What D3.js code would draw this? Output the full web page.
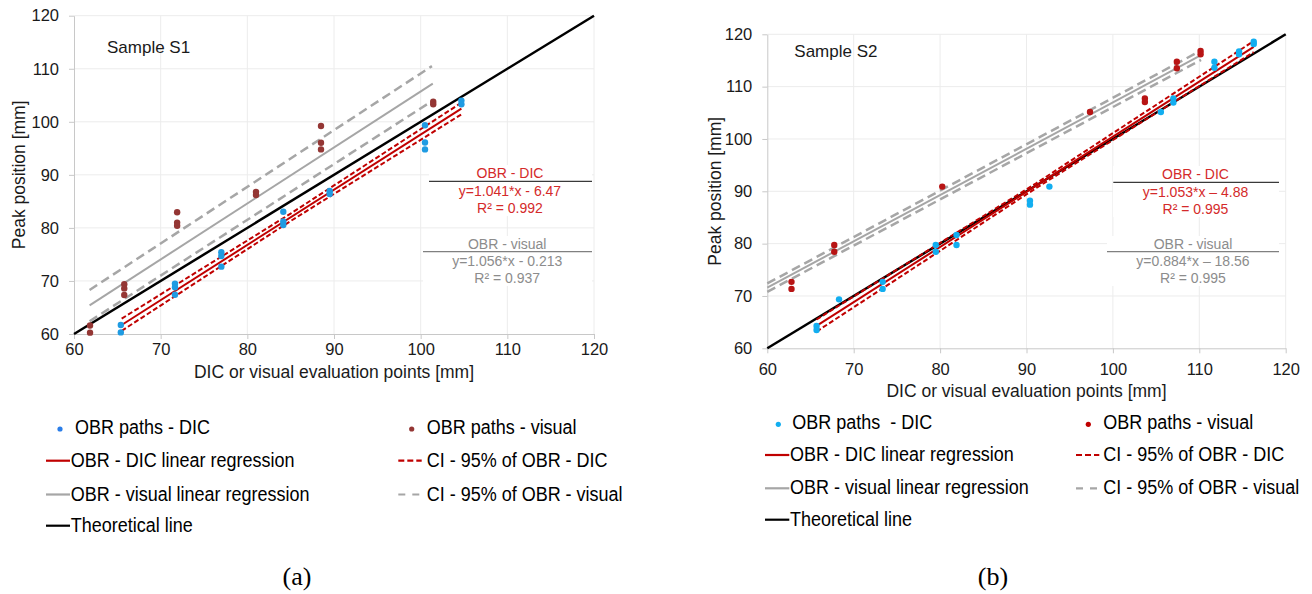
<!DOCTYPE html>
<html><head><meta charset="utf-8">
<script src="https://cdn.jsdelivr.net/npm/d3@7"></script>
<style>
html,body{margin:0;padding:0;background:#fff;}
svg{display:block;font-family:"Liberation Sans",Arial,sans-serif;}
text{white-space:pre;}
</style></head>
<body><svg id="chart" width="1312" height="594"></svg>
<script>
// ---------- data ----------
const axisTicks = [60, 70, 80, 90, 100, 110, 120];
const theoryX = [60, 120];
const theoryY = [60, 120];

// Sample S1
const s1DicX = [65.4, 65.4, 71.65, 71.65, 71.65, 77.0, 77.0, 77.0, 84.15, 84.15, 84.15, 89.5, 89.5, 100.5, 100.5, 100.5, 104.7, 104.7];
const s1DicY = [61.7, 60.3, 69.5, 68.8, 67.4, 75.4, 74.7, 72.7, 83.05, 81.2, 80.55, 86.95, 86.4, 99.35, 96.1, 94.8, 104.0, 103.3];
const s1VisX = [61.85, 61.85, 65.8, 65.8, 65.8, 71.9, 71.9, 71.9, 81.0, 81.0, 88.5, 88.5, 88.5, 101.45, 101.45];
const s1VisY = [61.6, 60.25, 69.4, 68.6, 67.35, 82.95, 81.0, 80.4, 86.8, 86.2, 99.2, 96.05, 94.8, 103.8, 103.3];
const s1DicRegX = [65.5, 104.7];
const s1DicRegY = [61.7, 102.5];
const s1DicCiX = [65.5, 85, 104.7];
const s1DicCiUp = [62.9, 82.7, 103.6];
const s1DicCiLo = [60.6, 81.3, 101.4];
const s1VisRegX = [61.8, 101.4];
const s1VisRegY = [65.4, 107.2];
const s1VisCiX = [61.8, 101.3];
const s1VisCiUp = [68.3, 110.5];
const s1VisCiLo = [62.4, 103.9];
const s1Labels = ["OBR - DIC", "y=1.041*x - 6.47", "R² = 0.992", "OBR - visual", "y=1.056*x - 0.213", "R² = 0.937"];

// Sample S2
const s2DicX = [65.7, 65.7, 68.3, 73.35, 73.35, 79.5, 79.5, 81.9, 81.9, 90.4, 90.4, 92.65, 105.55, 107.0, 107.0, 111.75, 111.75, 114.6, 114.6, 116.3, 116.3];
const s2DicY = [64.25, 63.5, 69.35, 72.7, 71.35, 79.75, 78.45, 81.65, 79.75, 88.2, 87.45, 90.9, 105.15, 107.75, 106.95, 114.75, 113.6, 116.7, 116.2, 118.6, 118.15];
const s2VisX = [62.8, 62.8, 67.75, 67.75, 80.25, 97.35, 103.7, 103.7, 107.4, 107.4, 110.15, 110.15];
const s2VisY = [72.7, 71.35, 79.75, 78.45, 90.9, 105.15, 107.75, 107.05, 114.75, 113.5, 116.8, 116.2];
const s2DicRegX = [65.7, 116.3];
const s2DicRegY = [64.3, 117.6];
const s2DicCiX = [65.7, 91, 116.3];
const s2DicCiUp = [65.5, 91.4, 118.7];
const s2DicCiLo = [63.2, 90.5, 116.6];
const s2VisRegX = [60, 110.2];
const s2VisRegY = [71.6, 116.0];
const s2VisCiX = [60, 110.2];
const s2VisCiUp = [72.4, 116.9];
const s2VisCiLo = [70.8, 115.1];
const s2Labels = ["OBR - DIC", "y=1.053*x \u2013 4.88", "R² = 0.995", "OBR - visual", "y=0.884*x \u2013 18.56", "R² = 0.995"];

const legendS1 = ["OBR paths - DIC", "OBR paths - visual", "OBR - DIC linear regression", "CI - 95% of OBR - DIC", "OBR - visual linear regression", "CI - 95% of OBR - visual", "Theoretical line"];
const legendS2 = ["OBR paths  - DIC", "OBR paths - visual", "OBR - DIC linear regression", "CI - 95% of OBR - DIC", "OBR - visual linear regression", "CI - 95% of OBR - visual", "Theoretical line"];

// ---------- drawing ----------
const svg = d3.select("#chart");
svg.append("rect").attr("width", 1312).attr("height", 594).attr("fill", "#fff");

const zip = (xs, ys) => xs.map((v, i) => [v, ys[i]]);

function panel(c) {
  const x = d3.scaleLinear().domain([60, 120]).range([c.x0, c.x1]);
  const y = d3.scaleLinear().domain([60, 120]).range([c.y0, c.y1]);
  const g = svg.append("g");
  // grid
  g.selectAll(".gx").data(axisTicks.slice(1)).join("line")
    .attr("x1", d => x(d)).attr("x2", d => x(d)).attr("y1", c.y0).attr("y2", c.y1)
    .attr("stroke", "#ececec").attr("stroke-width", 1);
  g.selectAll(".gy").data(axisTicks.slice(1)).join("line")
    .attr("x1", c.x0).attr("x2", c.x1).attr("y1", d => y(d)).attr("y2", d => y(d))
    .attr("stroke", "#ececec").attr("stroke-width", 1);
  // annotation boxes
  c.boxes.forEach(b => g.append("rect").attr("x", b[0]).attr("y", b[1]).attr("width", b[2]).attr("height", b[3]).attr("fill", "#fff"));
  // axes
  const ax = g.append("g").attr("transform", `translate(0,${c.y0})`)
    .call(d3.axisBottom(x).tickValues(axisTicks).tickSize(5).tickPadding(c.xPad).tickSizeOuter(0));
  const ay = g.append("g").attr("transform", `translate(${c.x0},0)`)
    .call(d3.axisLeft(y).tickValues(axisTicks).tickSize(5).tickPadding(10).tickSizeOuter(0));
  [ax, ay].forEach(a => {
    a.select(".domain").attr("stroke", "#c8c8c8");
    a.selectAll(".tick line").attr("stroke", "#c8c8c8");
    a.selectAll(".tick text").attr("font-size", 16.5).attr("fill", "#1a1a1a").attr("font-family", "Liberation Sans, Arial, sans-serif");
  });
  const line = d3.line().x(d => x(d[0])).y(d => y(d[1]));
  const path = (pts, col, w, dash) => g.append("path").attr("d", line(pts)).attr("fill", "none")
    .attr("stroke", col).attr("stroke-width", w).attr("stroke-dasharray", dash || null);
  // regression lines
  path(zip(c.visCiX, c.visCiUp), "#a6a6a6", 2.5, "9,5");
  path(zip(c.visCiX, c.visCiLo), "#a6a6a6", 2.5, "9,5");
  path(zip(c.visRegX, c.visRegY), "#a6a6a6", 2);
  path(zip(theoryX, theoryY), "#000", 2.5);
  path(zip(c.dicCiX, c.dicCiUp), "#c00000", 2, "5,2.5");
  path(zip(c.dicCiX, c.dicCiLo), "#c00000", 2, "5,2.5");
  path(zip(c.dicRegX, c.dicRegY), "#c00000", 2);
  // points
  g.selectAll(".pv").data(zip(c.visX, c.visY)).join("circle")
    .attr("cx", d => x(d[0])).attr("cy", d => y(d[1])).attr("r", 3.2).attr("fill", c.visCol);
  g.selectAll(".pd").data(zip(c.dicX, c.dicY)).join("circle")
    .attr("cx", d => x(d[0])).attr("cy", d => y(d[1])).attr("r", 3.2).attr("fill", c.dicCol);
  // titles
  g.append("text").attr("x", (c.x0 + c.x1) / 2).attr("y", c.xTitleY).attr("text-anchor", "middle")
    .attr("font-size", 17.5).attr("fill", "#1a1a1a").text("DIC or visual evaluation points [mm]");
  g.append("text").attr("transform", `translate(${c.yTitleX},${(c.y0 + c.y1) / 2}) rotate(-90)`).attr("text-anchor", "middle")
    .attr("font-size", 17.5).attr("fill", "#1a1a1a").text("Peak position [mm]");
  g.append("text").attr("x", c.sampleX).attr("y", c.sampleY).attr("font-size", 17).attr("fill", "#1a1a1a").text(c.sample);
  // annotations
  const L = c.labels, A = c.ann;
  const t = (s, xx, yy, col) => g.append("text").attr("x", xx).attr("y", yy).attr("text-anchor", "middle")
    .attr("font-size", 14).attr("fill", col).text(s);
  t(L[0], A.c1, A.b1[0], "#d42a2a");
  t(L[1], A.c1, A.b1[1], "#d42a2a");
  t(L[2], A.c1, A.b1[2], "#d42a2a");
  t(L[3], A.c2, A.b2[0], "#8c8c8c");
  t(L[4], A.c2, A.b2[1], "#8c8c8c");
  t(L[5], A.c2, A.b2[2], "#8c8c8c");
  g.append("line").attr("x1", A.l1[0]).attr("x2", A.l1[1]).attr("y1", A.l1[2]).attr("y2", A.l1[2]).attr("stroke", "#3a3a3a").attr("stroke-width", 1.3);
  g.append("line").attr("x1", A.l2[0]).attr("x2", A.l2[1]).attr("y1", A.l2[2]).attr("y2", A.l2[2]).attr("stroke", "#808080").attr("stroke-width", 1.3);
  // legend
  const lg = c.legend, items = c.legendText;
  const lt = (s, xx, yy) => g.append("text").attr("transform", `translate(${xx},${yy}) scale(1,1.13)`)
    .attr("font-size", 18).attr("fill", "#000").text(s);
  g.append("circle").attr("cx", lg.dotL).attr("cy", lg.rows[0] - 5).attr("r", 2.6).attr("fill", c.dicLegCol);
  g.append("circle").attr("cx", lg.dotR).attr("cy", lg.rows[0] - 5).attr("r", 2.6).attr("fill", c.visLegCol);
  lt(items[0], lg.txtL0, lg.rows[0]);
  lt(items[1], lg.txtR, lg.rows[0]);
  const seg = (x1, x2, yy, col, w, dash) => g.append("line").attr("x1", x1).attr("x2", x2).attr("y1", yy).attr("y2", yy)
    .attr("stroke", col).attr("stroke-width", w).attr("stroke-dasharray", dash || null);
  seg(lg.lineL[0], lg.lineL[1], lg.rows[1] - 6, "#c00000", 2.2);
  seg(lg.lineL[0], lg.lineL[1], lg.rows[2] - 6, "#a6a6a6", 2.2);
  seg(lg.lineL[0], lg.lineL[1], lg.rows[3] - 6, "#000", 2.2);
  seg(lg.lineR[0], lg.lineR[1], lg.rows[1] - 6, "#c00000", 2.2, "6,3");
  seg(lg.lineR[0], lg.lineR[1], lg.rows[2] - 6, "#a6a6a6", 2.2, "7,7");
  lt(items[2], lg.txtL, lg.rows[1]);
  lt(items[3], lg.txtR, lg.rows[1]);
  lt(items[4], lg.txtL, lg.rows[2]);
  lt(items[5], lg.txtR, lg.rows[2]);
  lt(items[6], lg.txtL, lg.rows[3]);
  g.append("text").attr("x", c.capX).attr("y", 585).attr("text-anchor", "middle")
    .attr("font-family", "Liberation Serif, Times New Roman, serif").attr("font-size", 26).attr("fill", "#000").text(c.cap);
}

panel({
  x0: 74, x1: 594, y0: 334, y1: 15.7, xPad: 4, xTitleY: 378, yTitleX: 25,
  sample: "Sample S1", sampleX: 107, sampleY: 52.5,
  dicX: s1DicX, dicY: s1DicY, visX: s1VisX, visY: s1VisY,
  dicRegX: s1DicRegX, dicRegY: s1DicRegY, dicCiX: s1DicCiX, dicCiUp: s1DicCiUp, dicCiLo: s1DicCiLo,
  visRegX: s1VisRegX, visRegY: s1VisRegY, visCiX: s1VisCiX, visCiUp: s1VisCiUp, visCiLo: s1VisCiLo,
  dicCol: "#1f9be2", visCol: "#943634", dicLegCol: "#2a7de8", visLegCol: "#943634",
  labels: s1Labels,
  boxes: [[429, 165, 163, 51], [423, 236, 169, 50]],
  ann: { c1: 510, b1: [178, 196, 212.7], c2: 507.2, b2: [249.3, 265.7, 282.7], l1: [429, 592, 181.3], l2: [423, 592, 251.7] },
  legend: { rows: [434, 466.7, 500.5, 531.7], dotL: 60, dotR: 411.7, txtL0: 75, txtL: 70.7, txtR: 426.7, lineL: [46, 70], lineR: [398.3, 421.7] },
  legendText: legendS1, cap: "(a)", capX: 297
});

panel({
  x0: 767.3, x1: 1285.7, y0: 348.3, y1: 34.3, xPad: 10, xTitleY: 397, yTitleX: 720.7,
  sample: "Sample S2", sampleX: 794.3, sampleY: 56.7,
  dicX: s2DicX, dicY: s2DicY, visX: s2VisX, visY: s2VisY,
  dicRegX: s2DicRegX, dicRegY: s2DicRegY, dicCiX: s2DicCiX, dicCiUp: s2DicCiUp, dicCiLo: s2DicCiLo,
  visRegX: s2VisRegX, visRegY: s2VisRegY, visCiX: s2VisCiX, visCiUp: s2VisCiUp, visCiLo: s2VisCiLo,
  dicCol: "#12aef0", visCol: "#b81414", dicLegCol: "#12aef0", visLegCol: "#c00000",
  labels: s2Labels,
  boxes: [[1113, 166, 166, 51], [1107, 236, 172, 50]],
  ann: { c1: 1195.5, b1: [179.3, 196.7, 214], c2: 1193, b2: [249.3, 265.7, 282.7], l1: [1113.3, 1279, 182.3], l2: [1107, 1279, 251.7] },
  legend: { rows: [429.3, 461, 494.3, 525.7], dotL: 778.3, dotR: 1088.3, txtL0: 792.3, txtL: 790, txtR: 1103.3, lineL: [765, 789.3], lineR: [1076, 1099.3] },
  legendText: legendS2, cap: "(b)", capX: 993
});
</script></body></html>
